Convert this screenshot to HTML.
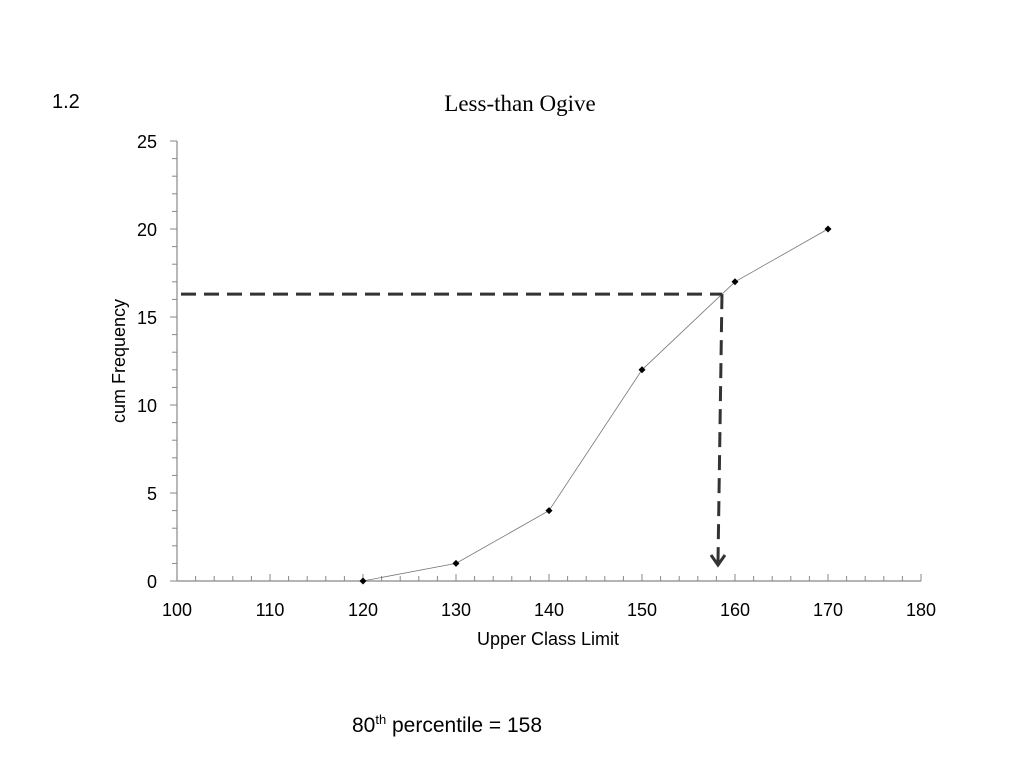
<!DOCTYPE html>
<html><head><meta charset="utf-8"><style>
body{margin:0;background:#fff;}
svg{display:block;font-family:"Liberation Sans",sans-serif;}
</style></head><body>
<svg id="c" width="1024" height="768">
<text x="52" y="108" font-size="20">1.2</text>
<text x="520" y="111" font-size="23" text-anchor="middle" font-family="Liberation Serif,serif">Less-than Ogive</text>
<text transform="translate(125,361) rotate(-90)" font-size="18" text-anchor="middle">cum Frequency</text>
<text x="548" y="645" font-size="18" text-anchor="middle">Upper Class Limit</text>
<text x="447" y="732" font-size="21" text-anchor="middle">80<tspan font-size="13" dy="-8">th</tspan><tspan dy="8"> percentile = 158</tspan></text>
<g id="g"></g>
</svg>
<script>
const xValues=[120,130,140,150,160,170];
const yValues=[0,1,4,12,17,20];
const xTicks=[100,110,120,130,140,150,160,170,180];
const yTicks=[0,5,10,15,20,25];
const percentileY=[16.3];
const percentileX=[158.6];
const X=v=>177+(v-100)*744/80;
const Y=v=>581-v*440/25;
const g=document.getElementById('g');
const NS='http://www.w3.org/2000/svg';
function mk(t,a,name){const e=document.createElementNS(NS,t);for(const k in a)e.setAttribute(k,a[k]);


g.appendChild(e);return e;}
mk('line',{x1:X(100),y1:Y(0),x2:X(180),y2:Y(0),stroke:'#888','stroke-width':1.2},'x-axis');
mk('line',{x1:X(100),y1:Y(0),x2:X(100),y2:Y(25),stroke:'#888','stroke-width':1.2},'y-axis');
for(let v=100;v<=180;v+=2){const maj=(v%10===0);
mk('line',{x1:X(v),y1:Y(0),x2:X(v),y2:Y(0)-(maj?7:5),stroke:'#888','stroke-width':1},'x-tick');}
for(let v=0;v<=25;v++){const maj=(v%5===0);
mk('line',{x1:X(100),y1:Y(v),x2:X(100)-(maj?7:5),y2:Y(v),stroke:'#888','stroke-width':1},'y-tick');}
xTicks.forEach(v=>{const t=mk('text',{x:X(v),y:Y(0)+35,'font-size':18,'text-anchor':'middle'},'x-tick-label');t.textContent=v;});
yTicks.forEach(v=>{const t=mk('text',{x:X(100)-20,y:Y(v)+7,'font-size':18,'text-anchor':'end'},'y-tick-label');t.textContent=v;});
mk('polyline',{points:xValues.map((x,i)=>X(x)+','+Y(yValues[i])).join(' '),fill:'none',stroke:'#777','stroke-width':0.8},'ogive-line');
xValues.forEach((x,i)=>{const cx=X(x),cy=Y(yValues[i]);
mk('polygon',{points:`${cx},${cy-3.5} ${cx+3.5},${cy} ${cx},${cy+3.5} ${cx-3.5},${cy}`,fill:'#000'},'data-point');});
const hy=Y(percentileY[0]),vx=X(percentileX[0]);
mk('line',{x1:181,y1:hy,x2:vx,y2:hy,stroke:'#333','stroke-width':3,'stroke-dasharray':'15 8'},'percentile-horizontal-guide');
mk('line',{x1:vx,y1:hy,x2:vx-4,y2:563,stroke:'#333','stroke-width':3,'stroke-dasharray':'15 8'},'percentile-vertical-guide');
mk('polyline',{points:`${vx-11},555 ${vx-4},565 ${vx+3},555`,fill:'none',stroke:'#333','stroke-width':3},'percentile-arrowhead');
</script>
</body></html>
